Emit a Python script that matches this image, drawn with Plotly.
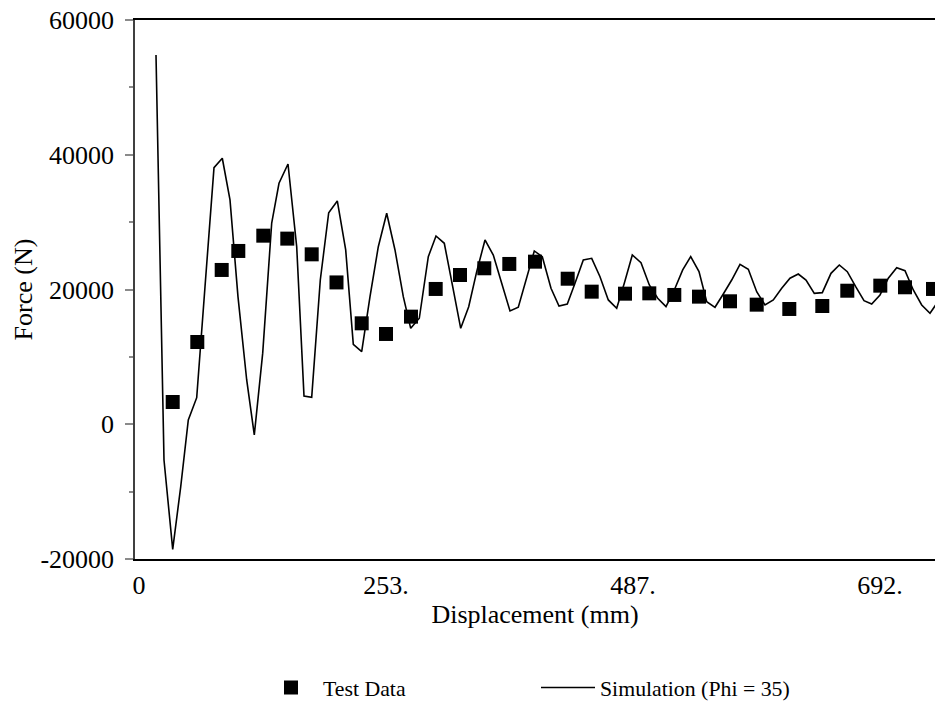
import plotly.graph_objects as go

# ---- data (x in axis units; ticks labelled 0 / 253. / 487. / 692.) ----
tick_vals = [0, 247, 494, 741]
tick_text = ["0", "253.", "487.", "692."]

y_tick_vals = [-20000, 0, 20000, 40000, 60000]
y_tick_text = ["-20000", "0", "20000", "40000", "60000"]

test_x = [33.7, 58.3, 82.7, 99.3, 124.3, 148.3, 172.7, 197.5, 222.7, 247,
          272, 296.7, 321, 345.3, 370.3, 396, 428.7, 452.7, 486, 510.3,
          535.3, 560, 591, 617.7, 650.3, 683.3, 708.3, 741.3, 766, 794]
test_force = [3300, 12210, 22900, 25720, 27990, 27550, 25220, 21050, 14980, 13400,
              15970, 20080, 22150, 23150, 23790, 24130, 21600, 19680, 19380, 19430,
              19190, 18940, 18250, 17750, 17110, 17550, 19820, 20570, 20330, 20080]

sim_x = [17, 25, 33.7, 41.7, 49.3, 57.7, 66, 75, 83.3, 91,
         99, 107.7, 115.3, 123.7, 132.7, 140, 149, 157.7, 165, 172.7,
         181.3, 189.7, 198.3, 206.7, 214.3, 222.7, 231, 239.3, 247.7, 256,
         264.3, 271.7, 280.3, 289.3, 297, 305.3, 313.7, 321.7, 329.7, 337.7,
         346, 354.3, 362.7, 371, 379.3, 387.7, 395.3, 403.3, 412, 420,
         428.3, 436, 444.3, 452.7, 461, 469.3, 477.7, 485.3, 493.3, 502,
         510.3, 518.7, 527, 535.3, 543.7, 551.7, 560, 567.7, 576, 584.3,
         592.7, 601, 609.3, 617.7, 626, 634.3, 642.7, 651, 659.3, 667,
         675.3, 683.3, 692, 700.3, 708.3, 716.7, 725, 732.7, 741, 749.3,
         757.7, 766, 774.3, 782.7, 791, 799]
sim_force = [54800, -5300, -18560, -9300, 630, 3940, 20400, 38080, 39480, 33290,
             18900, 6570, -1590, 10550, 29870, 35770, 38630, 26350, 4200, 4000,
             21410, 31400, 33140, 25870, 11870, 10770, 18940, 26350, 31310, 25870,
             18940, 14240, 15730, 24870, 27940, 26860, 20420, 14240, 17450, 22650,
             27350, 25120, 20920, 16810, 17360, 21900, 25720, 24870, 20180, 17550,
             17850, 20920, 24380, 24630, 21900, 18450, 17210, 20920, 25120, 23980,
             20670, 18700, 17450, 19930, 22900, 24870, 22650, 18190, 17360, 19330,
             21410, 23740, 23000, 19680, 17700, 18450, 20180, 21670, 22300, 21410,
             19430, 19530, 22400, 23640, 22650, 20420, 18340, 17850, 19190, 21670,
             23240, 22800, 19930, 17700, 16470, 18200]

FONT = "Liberation Serif, Times New Roman, serif"

fig = go.Figure()
fig.add_trace(go.Scatter(
    x=test_x, y=test_force, mode="markers", name="Test Data",
    marker=dict(symbol="square", size=14, color="black"),
))
fig.add_trace(go.Scatter(
    x=sim_x, y=sim_force, mode="lines", name="Simulation (Phi = 35)",
    line=dict(color="black", width=1.6),
))

fig.update_layout(
    width=935, height=704,
    margin=dict(l=135, r=0, t=20, b=145, autoexpand=False),
    paper_bgcolor="white", plot_bgcolor="white",
    font=dict(family=FONT, size=26, color="black"),
    showlegend=True,
    legend=dict(
        orientation="h", x=0.155, y=-0.239, xanchor="left", yanchor="middle",
        font=dict(family=FONT, size=21.8, color="black"),
        itemwidth=54, entrywidth=208, entrywidthmode="pixels",
        bgcolor="rgba(0,0,0,0)",
    ),
    xaxis=dict(
        range=[-4, 796], showgrid=False, zeroline=False, automargin=False,
        showline=True, linecolor="black", linewidth=2, mirror=True,
        tickmode="array", tickvals=tick_vals, ticktext=tick_text,
        ticks="outside", ticklen=2, tickcolor="rgba(0,0,0,0)",
        tickfont=dict(family=FONT, size=26, color="black"),
        title=dict(text="Displacement (mm)", standoff=4,
                   font=dict(family=FONT, size=26, color="black")),
    ),
    yaxis=dict(
        range=[-20000, 60000], showgrid=False, zeroline=False, automargin=False,
        showline=True, linecolor="#404040", linewidth=1.5,
        tickmode="array", tickvals=y_tick_vals, ticktext=y_tick_text,
        ticks="outside", ticklen=8, tickwidth=1.5, tickcolor="#8a8a8a",
        ticklabelstandoff=6,
        minor=dict(dtick=10000, tick0=0, ticks="outside", ticklen=4,
                   tickwidth=1.5, tickcolor="#8a8a8a", showgrid=False),
        tickfont=dict(family=FONT, size=26, color="black"),
        title=dict(text="Force (N)", standoff=0,
                   font=dict(family=FONT, size=26, color="black")),
    ),
    yaxis2=dict(
        range=[-20000, 60000], overlaying="y", side="left", automargin=False,
        showgrid=False, zeroline=False, showline=False,
        tickmode="array", tickvals=y_tick_vals, showticklabels=False,
        ticks="inside", ticklen=8, tickwidth=1.5, tickcolor="#8a8a8a",
        minor=dict(dtick=10000, tick0=0, ticks="inside", ticklen=4,
                   tickwidth=1.5, tickcolor="#8a8a8a", showgrid=False),
    ),
)

fig.write_html("out.html", config={"displayModeBar": False},
               post_script="document.body.style.margin='0';")
